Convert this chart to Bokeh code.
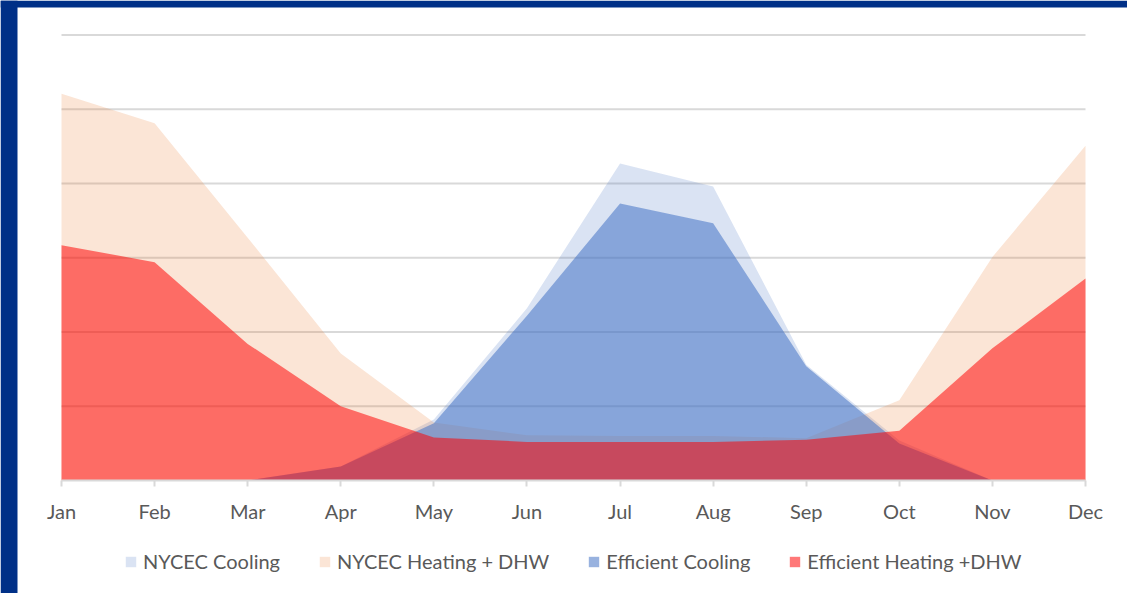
from bokeh.plotting import figure
from bokeh.models import Legend, LegendItem, FixedTicker, BoxAnnotation
from bokeh.embed import file_html
from bokeh.resources import INLINE

months = ["Jan", "Feb", "Mar", "Apr", "May", "Jun", "Jul", "Aug", "Sep", "Oct", "Nov", "Dec"]
nycec_cooling = [0, 0, 0, 1.9, 8.2, 23.2, 42.7, 39.6, 15.6, 5.4, 0, 0]
nycec_heating = [52.1, 48.1, 32.7, 17.1, 7.8, 6.1, 6.0, 6.0, 5.7, 10.8, 30.1, 45.1]
eff_cooling = [0, 0, 0, 1.9, 7.7, 22.2, 37.3, 34.65, 15.4, 5.0, 0, 0]
eff_heating = [31.7, 29.4, 18.4, 10.0, 5.8, 5.2, 5.2, 5.2, 5.5, 6.7, 17.8, 27.2]
grid_values = [10, 20, 30, 40, 50, 60]

x = list(range(len(months)))
FONT = "Lato"
TXT = "#595959"
NAVY = "#003087"
W, H = 1127, 593
FL, FT = 17, 7            # navy frame band (left, top)

# the whole canvas is the plot frame; Jan at px 61, Dec at px 1085; 0 at px 480, 60 at px 34.5
ux = 11 / (1085 - 61)
x0 = -61 * ux
x1 = 11 + (W - 1085) * ux
uy = (480 - 34.5) / 60
y0 = -(H - 480) / uy
y1 = 60 + 34.5 / uy

p = figure(width=W, height=H, output_backend="svg", toolbar_location=None,
           x_range=(x0, x1), y_range=(y0, y1),
           min_border_left=0, min_border_right=0, min_border_top=0, min_border_bottom=0,
           background_fill_color="white", border_fill_color="white", outline_line_color=None)

# navy page band on left and top
p.add_layout(BoxAnnotation(right=x0 + FL * ux, fill_color=NAVY, fill_alpha=1, line_color=None))
p.add_layout(BoxAnnotation(bottom=y1 - FT / uy, fill_color=NAVY, fill_alpha=1, line_color=None))

p.segment(x0=[0] * len(grid_values), x1=[11] * len(grid_values), y0=grid_values, y1=grid_values,
          line_color="#D9D9D9", line_width=2)

zero = [0] * len(x)
r1 = p.varea(x=x, y1=zero, y2=nycec_cooling, fill_color="#4472C4", fill_alpha=0.2)
r2 = p.varea(x=x, y1=zero, y2=nycec_heating, fill_color="#ED7D31", fill_alpha=0.2)
r3 = p.varea(x=x, y1=zero, y2=eff_cooling, fill_color="#4472C4", fill_alpha=0.55)
r4 = p.varea(x=x, y1=zero, y2=eff_heating, fill_color="#FF0000", fill_alpha=0.53)

p.yaxis.visible = False
p.xgrid.visible = False
p.ygrid.visible = False

ax = p.xaxis[0]
ax.fixed_location = 0
ax.bounds = (0, 11)
ax.ticker = FixedTicker(ticks=x)
ax.major_label_overrides = {i: m for i, m in enumerate(months)}
ax.axis_line_color = "#D9D9D9"
ax.axis_line_width = 2
ax.major_tick_line_color = "#D9D9D9"
ax.major_tick_line_width = 2
ax.major_tick_out = 6
ax.major_tick_in = 0
ax.minor_tick_line_color = None
ax.major_label_standoff = 12
ax.major_label_text_font = FONT
ax.major_label_text_font_size = "20px"
ax.major_label_text_color = TXT

legend = Legend(items=[
    LegendItem(label="NYCEC Cooling", renderers=[r1]),
    LegendItem(label="NYCEC Heating + DHW", renderers=[r2]),
    LegendItem(label="Efficient Cooling", renderers=[r3]),
    LegendItem(label="Efficient Heating +DHW", renderers=[r4]),
], orientation="horizontal", location=(124, 20),
    label_text_font=FONT, label_text_font_size="20px", label_text_color=TXT,
    glyph_width=13, glyph_height=13, label_standoff=6, spacing=38,
    padding=0, margin=0, border_line_color=None, background_fill_alpha=0)
p.add_layout(legend, "center")

open("out.html", "w").write(file_html(p, INLINE))
